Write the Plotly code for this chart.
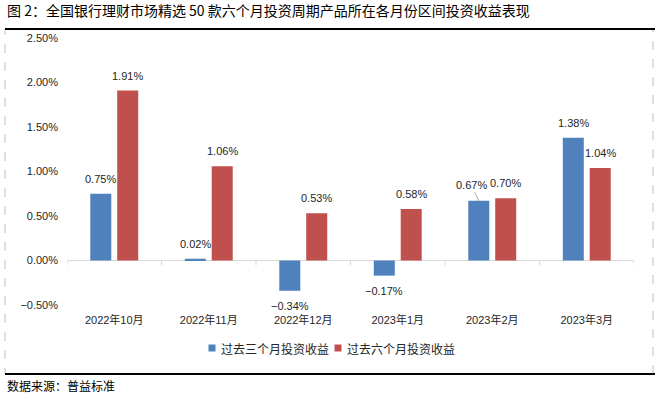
import plotly.graph_objects as go

categories = ["2022年10月", "2022年11月", "2022年12月", "2023年1月", "2023年2月", "2023年3月"]
three_month = [0.75, 0.02, -0.34, -0.17, 0.67, 1.38]
six_month = [1.91, 1.06, 0.53, 0.58, 0.70, 1.04]
series_names = ["过去三个月投资收益", "过去六个月投资收益"]
colors = ["#4F81BD", "#C0504D"]
title_text = "图 2：全国银行理财市场精选 50 款六个月投资周期产品所在各月份区间投资收益表现"
source_text = "数据来源：普益标准"

W, H = 662, 393
ML, MR, MT, MB = 67, 28, 38, 88
PW, PH = W - ML - MR, H - MT - MB

def px_x(p):
    return (p - ML) / PW

def px_y(p):
    return (H - MB - p) / PH

NUM_FONT = "Liberation Sans, Arial, Noto Sans CJK SC"
CJK_FONT = "Noto Sans CJK SC, Liberation Sans"

def fmt(v):
    return f"{v:.2f}%".replace("-", "\u2212")

fig = go.Figure()
for name, vals, col in zip(series_names, [three_month, six_month], colors):
    fig.add_trace(go.Bar(x=categories, y=vals, name=name, marker_color=col,
                         marker_line_width=0, showlegend=False))

annotations = []
offsets = [-13.5, 13.5]
for si, vals in enumerate([three_month, six_month]):
    for cat, v in zip(categories, vals):
        a = dict(x=cat, y=v, xref="x", yref="y", text=fmt(v),
                 font=dict(family=NUM_FONT, size=11, color="#262626"),
                 xshift=offsets[si])
        if si == 0 and cat == "2023年2月":
            a.update(showarrow=True, ax=-7.5, ay=-16, arrowhead=0,
                     arrowwidth=1, arrowcolor="#a6a6a6", standoff=0)
        else:
            a.update(showarrow=False, yshift=15 if v >= 0 else -15)
        annotations.append(a)

annotations.append(dict(x=px_x(5), y=px_y(10), xref="paper", yref="paper",
                        xanchor="left", yanchor="middle", showarrow=False,
                        text=title_text,
                        font=dict(family=CJK_FONT, size=14, color="#000000")))
annotations.append(dict(x=px_x(5), y=px_y(385), xref="paper", yref="paper",
                        xanchor="left", yanchor="middle", showarrow=False,
                        text=source_text,
                        font=dict(family=CJK_FONT, size=12, color="#000000")))

shapes = []
# manual legend (square + label)
legend_left = [208.5, 334.5]
for name, col, lx in zip(series_names, colors, legend_left):
    shapes.append(dict(type="rect", xref="paper", yref="paper",
                       x0=px_x(lx), x1=px_x(lx + 7), y0=px_y(351.5), y1=px_y(344.5),
                       line=dict(width=0), fillcolor=col))
    annotations.append(dict(x=px_x(lx + 10), y=px_y(348), xref="paper", yref="paper",
                            xanchor="left", yanchor="middle", showarrow=False,
                            text=name,
                            font=dict(family=CJK_FONT, size=12, color="#262626")))
# dashed frame
shapes.append(dict(type="rect", xref="paper", yref="paper",
                   x0=px_x(5), x1=px_x(653), y0=px_y(374), y1=px_y(29),
                   line=dict(color="#bfbfbf", width=1, dash="dash")))
# top and bottom rules
for yy in (29, 374):
    shapes.append(dict(type="line", xref="paper", yref="paper",
                       x0=px_x(5), x1=px_x(655), y0=px_y(yy), y1=px_y(yy),
                       line=dict(color="#000000", width=2)))
# category tick marks on the zero line
for k in range(len(categories) + 1):
    shapes.append(dict(type="line", xref="x", yref="y", ysizemode="pixel",
                       yanchor=0, x0=k - 0.5, x1=k - 0.5, y0=0, y1=-5,
                       line=dict(color="#d9d9d9", width=1)))

fig.update_layout(
    width=W, height=H,
    margin=dict(l=ML, r=MR, t=MT, b=MB),
    paper_bgcolor="white", plot_bgcolor="white",
    barmode="group", bargap=0.43, bargroupgap=0.22,
    font=dict(family=NUM_FONT, size=11, color="#262626"),
    showlegend=False,
    hovermode=False,
    annotations=annotations,
    shapes=shapes,
)
fig.update_xaxes(type="category", range=[-0.5, len(categories) - 0.5],
                 showline=False, showgrid=False, ticks="", zeroline=False,
                 tickfont=dict(family=NUM_FONT, size=11, color="#262626"),
                 ticklabelstandoff=7)
fig.update_yaxes(range=[-0.5, 2.5], dtick=0.5, tick0=0, tickformat=".2f",
                 ticksuffix="%", showgrid=False, showline=False, ticks="",
                 zeroline=True, zerolinecolor="#d9d9d9", zerolinewidth=1,
                 tickfont=dict(family=NUM_FONT, size=11, color="#262626"),
                 ticklabelstandoff=8)

fig.write_html("out.html", config={"displayModeBar": False},
               post_script="document.body.style.margin='0';")
